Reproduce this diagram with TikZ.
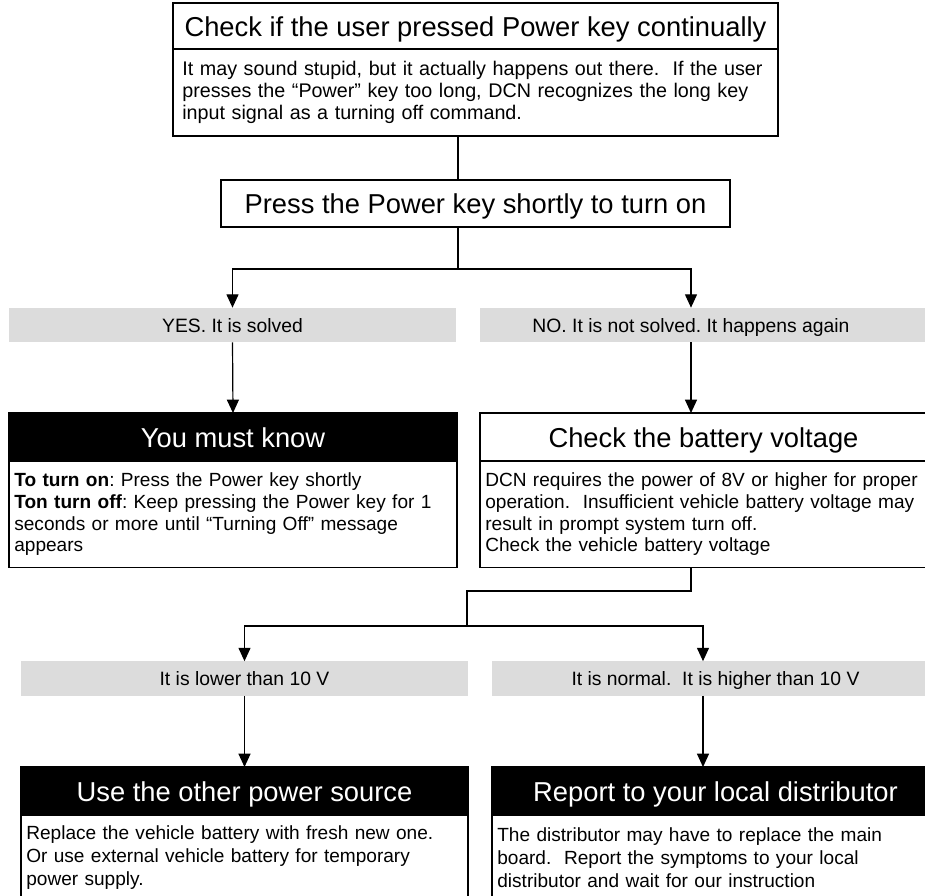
\documentclass[tikz,border=0pt]{standalone}
\usepackage{fontspec}
\setmainfont{Liberation Sans}
\usetikzlibrary{arrows.meta,positioning}
\definecolor{bargray}{HTML}{DCDCDC}
\tikzset{
  box/.style={draw=black,line width=0.9pt,outer sep=0pt,inner sep=0pt},
  heading/.style={box,minimum height=36pt,text height=15pt,text depth=0pt,font=\fontsize{20.5}{24}\selectfont},
  darkheading/.style={heading,fill=black,text=white},
  note/.style={box,align=left,inner xsep=4pt,font=\fontsize{14.3}{16.2}\selectfont},
  answer/.style={fill=bargray,outer sep=0pt,inner sep=0pt,minimum width=335.25pt,minimum height=26pt,text height=10.6pt,text depth=0pt,font=\fontsize{14.5}{17}\selectfont},
  flow/.style={-{Triangle[width=9pt,length=10pt]},line width=0.9pt},
  link/.style={line width=0.9pt}
}
\begin{document}
\frenchspacing
\begin{tikzpicture}[x=0.75pt,y=-0.75pt]
  \useasboundingbox (0,0) rectangle (925,896);
  \clip (0,0) rectangle (925,896);

  \node[heading,minimum width=453.75pt,minimum height=34.5pt] (chk) at (475.5,26) {Check if the user pressed Power key continually};
  \node[note,below=0pt of chk,minimum height=65.25pt,inner xsep=7pt,text width=439.75pt,font=\fontsize{14.8}{16.5}\selectfont] (chknote) {It may sound stupid, but it actually happens out there.~ If the user\\ presses the “Power” key too long, DCN recognizes the long key\\ input signal as a turning off command.};

  \node[heading,minimum width=381.75pt,minimum height=35.25pt] (press) at (475.5,203.5) {Press the Power key shortly to turn on};

  \node[answer] (yes) at (232.5,325) {YES. It is solved};
  \node[answer] (no) at (703.5,325) {\hspace*{-18.75pt}NO. It is not solved. It happens again};

  \node[darkheading,minimum width=336pt] (know) at (233,437) {You must know};
  \node[note,below=0pt of know,minimum height=80pt,text width=328pt] (knownote) {\textbf{To turn on}: Press the Power key shortly\\ \textbf{Ton turn off}: Keep pressing the Power key for 1\\ seconds or more until “Turning Off” message\\ appears};

  \node[heading,minimum width=335.25pt] (bat) at (703.5,437) {Check the battery voltage};
  \node[note,below=0pt of bat,minimum height=80pt,text width=327.25pt] (batnote) {DCN requires the power of 8V or higher for proper\\ operation.~ Insufficient vehicle battery voltage may\\ result in prompt system turn off.\\ Check the vehicle battery voltage};

  \node[answer] (low) at (244.5,678.5) {It is lower than 10 V};
  \node[answer] (normal) at (715.5,678.5) {It is normal.~ It is higher than 10 V};

  \node[darkheading,minimum width=335.25pt] (other) at (244.5,791) {Use the other power source};
  \node[note,below=0pt of other,minimum height=64pt,text width=327.25pt,font=\fontsize{14.3}{17.5}\selectfont] (othernote) {Replace the vehicle battery with fresh new one.\\ Or use external vehicle battery for temporary\\ power supply.};
  \node[darkheading,minimum width=335.25pt] (report) at (715.5,791) {Report to your local distributor};
  \node[note,below=0pt of report,minimum height=64pt,text width=327.25pt,font=\fontsize{14.3}{17.5}\selectfont] (reportnote) {The distributor may have to replace the main\\ board.~ Report the symptoms to your local\\ distributor and wait for our instruction};

  \coordinate (split1) at (458,269);
  \coordinate (nocol) at (691,269);
  \coordinate (split2) at (691,591);
  \coordinate (split3) at (467,626);
  \coordinate (normcol) at (703,626);

  \draw[link] (chknote.south -| split1) -- (press.north -| split1);
  \draw[link] (press.south -| split1) -- (split1);
  \draw[flow] (split1) -| (yes.north);
  \draw[flow] (split1) -- (nocol) -- (no.north -| nocol);
  \draw[flow] (yes.south) -- (know.north);
  \draw[flow] (no.south -| nocol) -- (bat.north -| nocol);
  \draw[link] (batnote.south -| split2) -- (split2) -| (split3);
  \draw[flow] (split3) -| (low.north);
  \draw[flow] (split3) -- (normcol) -- (normal.north -| normcol);
  \draw[flow] (low.south) -- (other.north);
  \draw[flow] (normal.south -| normcol) -- (report.north -| normcol);
\end{tikzpicture}
\end{document}
